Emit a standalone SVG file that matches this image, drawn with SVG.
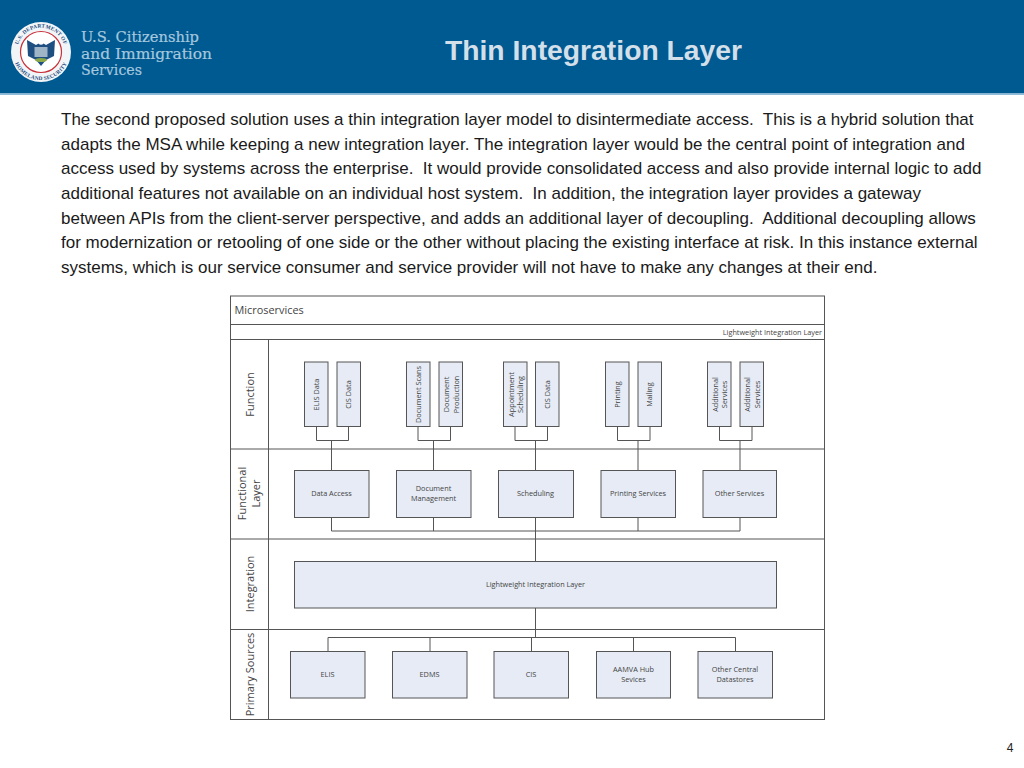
<svg xmlns="http://www.w3.org/2000/svg" width="1024" height="768" viewBox="0 0 1024 768">
<style>
.body{font:17px "Liberation Sans",Arial,sans-serif;fill:#1a1a1a}
.lane{font:11px "Open Sans","Noto Sans",sans-serif;fill:#444}
.s{font:7.3px "Open Sans","Noto Sans",sans-serif;fill:#444;text-anchor:middle}
.v{font:7.3px "Open Sans","Noto Sans",sans-serif;fill:#444;text-anchor:middle}
.box{fill:#e6ebf5;stroke:#555;stroke-width:1}
.ln{fill:none;stroke:#555;stroke-width:1}
.logo{font:15.2px "DejaVu Serif",serif;fill:#a6c8de;stroke:#a6c8de;stroke-width:.2}
.seal{font:bold 5.4px "Liberation Serif",serif;fill:#1f4e80;letter-spacing:.2px}
</style>
<defs>
<path id="arcTop" d="M17.600 57A24 24 0 1 1 64.400 57"/>
<path id="arcBot" d="M12.700 55A28.500 28.500 0 0 0 69.300 55"/>
</defs>
<rect width="1024" height="768" fill="#fff"/>
<g id="header">
<rect width="1024" height="93.500" fill="#005a92"/>
<rect y="93.500" width="1024" height="1.500" fill="#8fbcd8"/>
<circle cx="41" cy="52" r="30" fill="#f2f5f8"/>
<circle cx="41" cy="52" r="20.500" fill="#fff" stroke="#c8303a" stroke-width="1.200"/>
<path d="M27 40 L36 45 L41 42 L46 45 L55 40 L54 56 L46 60 L41 66 L36 60 L28 56Z" fill="#1f4e80"/>
<rect x="34.500" y="47" width="13" height="10" fill="#9fb4c6"/>
<ellipse cx="41" cy="60" rx="6" ry="2" fill="#8aa84a"/>
<circle cx="41" cy="42" r="2.800" fill="#fff"/>
<text class="seal"><textPath href="#arcTop" startOffset="50%" text-anchor="middle">U.S. DEPARTMENT OF</textPath></text>
<text class="seal"><textPath href="#arcBot" startOffset="50%" text-anchor="middle">HOMELAND SECURITY</textPath></text>
<text class="logo" x="81" y="42" textLength="118" lengthAdjust="spacingAndGlyphs">U.S. Citizenship</text>
<text class="logo" x="81" y="59" textLength="131" lengthAdjust="spacingAndGlyphs">and Immigration</text>
<text class="logo" x="81" y="75" textLength="61" lengthAdjust="spacingAndGlyphs">Services</text>
<text x="593.500" y="60" text-anchor="middle" font-family="Liberation Sans,Arial,sans-serif" font-size="28.300" font-weight="bold" fill="#d3dfe9">Thin Integration Layer</text>
</g>
<g id="paragraph" class="body">
<text x="61" y="125">The second proposed solution uses a thin integration layer model to disintermediate access.&#160; This is a hybrid solution that</text>
<text x="61" y="150" textLength="904" lengthAdjust="spacing">adapts the MSA while keeping a new integration layer. The integration layer would be the central point of integration and</text>
<text x="61" y="174">access used by systems across the enterprise.&#160; It would provide consolidated access and also provide internal logic to add</text>
<text x="61" y="199">additional features not available on an individual host system.&#160; In addition, the integration layer provides a gateway</text>
<text x="61" y="224">between APIs from the client-server perspective, and adds an additional layer of decoupling.&#160; Additional decoupling allows</text>
<text x="61" y="248">for modernization or retooling of one side or the other without placing the existing interface at risk. In this instance external</text>
<text x="61" y="273">systems, which is our service consumer and service provider will not have to make any changes at their end.</text>
</g>
<g id="frame">
<rect x="230.500" y="296" width="594" height="423.500" fill="#fff" stroke="#555"/>
<path class="ln" d="M230.500 324.500H824.500M230.500 339.500H824.500M230.500 449H824.500M230.500 539H824.500M230.500 629.500H824.500M268.500 339.500V719.500"/>
<text x="234.500" y="314" font-family="Open Sans,Noto Sans,sans-serif" font-size="10.900" fill="#444">Microservices</text>
<text x="822" y="335" text-anchor="end" font-family="Open Sans,Noto Sans,sans-serif" font-size="7.300" fill="#444">Lightweight Integration Layer</text>
<text class="lane" text-anchor="middle" transform="translate(253.500 394.500) rotate(-90)">Function</text>
<text class="lane" text-anchor="middle" transform="translate(245.500 493.500) rotate(-90)">Functional</text>
<text class="lane" text-anchor="middle" transform="translate(259.500 493.500) rotate(-90)">Layer</text>
<text class="lane" text-anchor="middle" transform="translate(253.500 584) rotate(-90)">Integration</text>
<text class="lane" text-anchor="middle" transform="translate(253.500 674.500) rotate(-90)">Primary Sources</text>
</g>
<g id="connectors">
<path class="ln" d="M316.500 426.500V440.500H348.500V426.500M331.500 440.500V470.500"/>
<path class="ln" d="M418 426.500V440.500H450.500V426.500M433.500 440.500V470.500"/>
<path class="ln" d="M515 426.500V440.500H547.500V426.500M535.500 440.500V470.500"/>
<path class="ln" d="M617.500 426.500V440.500H650V426.500M638 440.500V470.500"/>
<path class="ln" d="M719.500 426.500V440.500H752V426.500M740 440.500V470.500"/>
<path class="ln" d="M331.500 517.500V531H740V517.500M433.500 517.500V531M535.500 517.500V561.500M638 517.500V531"/>
<path class="ln" d="M535.500 608V637.500M328 651.500V637.500H735.500V651.500M430 637.500V651.500M531.500 637.500V651.500M633.500 637.500V651.500"/>
</g>
<g id="fn-elis-data"><rect class="box" x="304.500" y="362" width="23.500" height="64.500"/><text class="v" transform="translate(318.500 394.500) rotate(-90)">ELIS Data</text></g>
<g id="fn-cis-data"><rect class="box" x="337" y="362" width="23.500" height="64.500"/><text class="v" transform="translate(351 394.500) rotate(-90)">CIS Data</text></g>
<g id="fn-doc-scans"><rect class="box" x="406.500" y="362" width="23.500" height="64.500"/><text class="v" transform="translate(420.500 394.500) rotate(-90)">Document Scans</text></g>
<g id="fn-doc-prod"><rect class="box" x="439" y="362" width="23.500" height="64.500"/><text class="v" transform="translate(449 394.500) rotate(-90)"><tspan x="0">Document</tspan><tspan x="0" dy="9.500">Production</tspan></text></g>
<g id="fn-appt"><rect class="box" x="503.500" y="362" width="23.500" height="64.500"/><text class="v" transform="translate(513.500 394.500) rotate(-90)"><tspan x="0">Appointment</tspan><tspan x="0" dy="9.500">Scheduling</tspan></text></g>
<g id="fn-cis-data-2"><rect class="box" x="535.500" y="362" width="23.500" height="64.500"/><text class="v" transform="translate(549.500 394.500) rotate(-90)">CIS Data</text></g>
<g id="fn-printing"><rect class="box" x="605.500" y="362" width="23.500" height="64.500"/><text class="v" transform="translate(619.500 394.500) rotate(-90)">Printing</text></g>
<g id="fn-mailing"><rect class="box" x="638" y="362" width="23.500" height="64.500"/><text class="v" transform="translate(652 394.500) rotate(-90)">Mailing</text></g>
<g id="fn-add-1"><rect class="box" x="707.500" y="362" width="23.500" height="64.500"/><text class="v" transform="translate(717.500 394.500) rotate(-90)"><tspan x="0">Additional</tspan><tspan x="0" dy="9.500">Services</tspan></text></g>
<g id="fn-add-2"><rect class="box" x="740" y="362" width="23.500" height="64.500"/><text class="v" transform="translate(750 394.500) rotate(-90)"><tspan x="0">Additional</tspan><tspan x="0" dy="9.500">Services</tspan></text></g>
<g id="svc-data"><rect class="box" x="294.500" y="470.500" width="74.500" height="47"/><text class="s" x="331.500" y="496">Data Access</text></g>
<g id="svc-doc"><rect class="box" x="396.500" y="470.500" width="74.500" height="47"/><text class="s" x="433.500" y="491">Document</text><text class="s" x="433.500" y="501">Management</text></g>
<g id="svc-sched"><rect class="box" x="498.500" y="470.500" width="75" height="47"/><text class="s" x="535.500" y="496">Scheduling</text></g>
<g id="svc-print"><rect class="box" x="601" y="470.500" width="74.500" height="47"/><text class="s" x="638" y="496">Printing Services</text></g>
<g id="svc-other"><rect class="box" x="703" y="470.500" width="73.500" height="47"/><text class="s" x="739.500" y="496">Other Services</text></g>
<g id="integration"><rect class="box" x="294.500" y="561.500" width="482" height="46.500"/><text class="s" x="535.500" y="586.500">Lightweight Integration Layer</text></g>
<g id="src-elis"><rect class="box" x="290.500" y="651.500" width="74.500" height="46.500"/><text class="s" x="327.500" y="677">ELIS</text></g>
<g id="src-edms"><rect class="box" x="392.500" y="651.500" width="74.500" height="46.500"/><text class="s" x="429.500" y="677">EDMS</text></g>
<g id="src-cis"><rect class="box" x="494" y="651.500" width="74.500" height="46.500"/><text class="s" x="531" y="677">CIS</text></g>
<g id="src-aamva"><rect class="box" x="596.500" y="651.500" width="74" height="46.500"/><text class="s" x="633.500" y="672">AAMVA Hub</text><text class="s" x="633.500" y="682">Sevices</text></g>
<g id="src-other"><rect class="box" x="698" y="651.500" width="74.500" height="46.500"/><text class="s" x="735" y="672">Other Central</text><text class="s" x="735" y="682">Datastores</text></g>
<text x="1010" y="752" text-anchor="middle" font-family="Liberation Sans,Arial,sans-serif" font-size="12" fill="#222">4</text>
</svg>
